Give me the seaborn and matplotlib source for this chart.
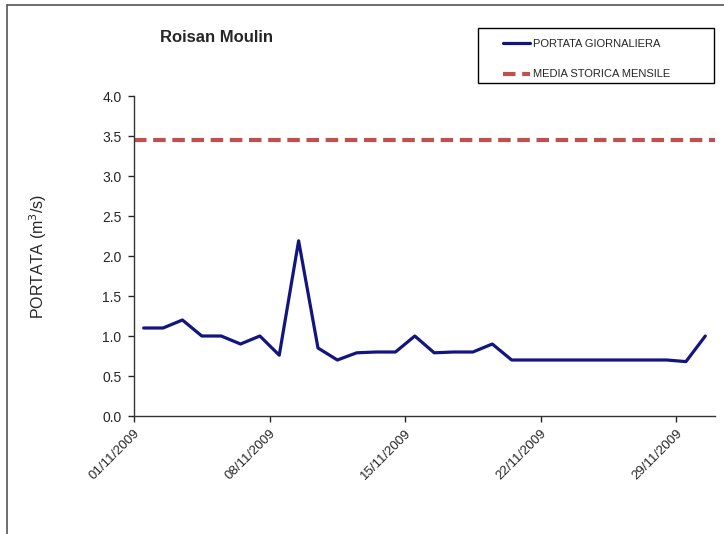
import pandas as pd
import numpy as np
import matplotlib
matplotlib.use('Agg')
import matplotlib.pyplot as plt
from matplotlib.lines import Line2D
from matplotlib.patches import Rectangle
import seaborn as sns

# dati (portata giornaliera, novembre 2009)
giorni = pd.date_range('2009-11-01', periods=30, freq='D')
portata = [1.1, 1.1, 1.2, 1.0, 1.0, 0.9, 1.0, 0.76, 2.19, 0.85,
           0.7, 0.79, 0.8, 0.8, 1.0, 0.79, 0.8, 0.8, 0.9, 0.7,
           0.7, 0.7, 0.7, 0.7, 0.7, 0.7, 0.7, 0.7, 0.68, 1.0]
media_storica = 3.45
etichette_date = ['01/11/2009', '08/11/2009', '15/11/2009', '22/11/2009', '29/11/2009']

sns.set_style('white')
plt.rcParams['font.family'] = ['Liberation Sans', 'DejaVu Sans']

df = pd.DataFrame({'data': giorni + pd.Timedelta(hours=12), 'portata': portata})

fig = plt.figure(figsize=(7.24, 5.34), dpi=100)
ax = fig.add_axes([134 / 724, 1 - 416 / 534, (715 - 134) / 724, (416 - 96) / 534])

sns.lineplot(data=df, x='data', y='portata', ax=ax, color='#141480', linewidth=2.3,
             label='PORTATA GIORNALIERA')
ax.axhline(media_storica, color='#C0504D', linewidth=3, dashes=(3, 1.6),
           label='MEDIA STORICA MENSILE')

ax.set_xlim(giorni[0], giorni[-1] + pd.Timedelta(days=1))
ax.set_ylim(0, 4)
ax.set_yticks(np.arange(0, 4.01, 0.5))
ax.yaxis.set_major_formatter(matplotlib.ticker.FormatStrFormatter('%.1f'))
ax.set_xticks(pd.to_datetime(etichette_date, format='%d/%m/%Y'))
ax.set_xticklabels(etichette_date, rotation=45, ha='right', rotation_mode='anchor', fontsize=9.5)
ax.tick_params(axis='y', labelsize=10, length=4, width=1, direction='out', left=True, pad=5)
ax.tick_params(axis='x', length=4, width=1, direction='out', bottom=True, pad=4)

ax.set_xlabel('')
ax.set_ylabel('PORTATA (m$^3$/s)', fontsize=11.5, labelpad=38)

for s in ['top', 'right']:
    ax.spines[s].set_visible(False)
for s in ['left', 'bottom']:
    ax.spines[s].set_color('#333333')
    ax.spines[s].set_linewidth(1)

# legenda senza cornice + riquadro separato
ax.get_legend().remove()
handles, labels = ax.get_legend_handles_labels()
fig.legend(handles, labels, loc='upper left',
           bbox_to_anchor=(494 / 724, 1 - 30 / 534),
           fontsize=8, frameon=False, handlelength=2.4,
           labelspacing=1.85, borderpad=0.8, handletextpad=0.3, borderaxespad=0)
fig.add_artist(Rectangle((478 / 724, 1 - 83 / 534), 236 / 724, 55 / 534,
                         transform=fig.transFigure, fill=False, edgecolor='black', linewidth=1))

fig.text(160 / 724, 1 - 38 / 534, 'Roisan Moulin', fontsize=12, fontweight='bold',
         ha='left', va='center')

# bordo dell'area grafico
fig.add_artist(Line2D([7 / 724, 7 / 724], [0, 1 - 5 / 534], color='#555555', linewidth=1.2,
                      transform=fig.transFigure))
fig.add_artist(Line2D([7 / 724, 1], [1 - 5 / 534, 1 - 5 / 534], color='#555555', linewidth=1.2,
                      transform=fig.transFigure))

fig.savefig('out.png', dpi=100)
